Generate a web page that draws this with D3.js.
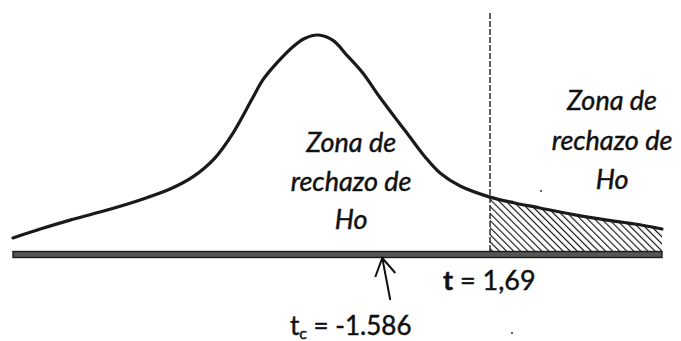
<!DOCTYPE html>
<html>
<head>
<meta charset="utf-8">
<script src="https://cdn.jsdelivr.net/npm/d3@7"></script>
<style>
  html, body { margin: 0; padding: 0; background: #fff; }
  svg { display: block; }
  .lbl { font-family: Lato, "Open Sans", sans-serif; fill: #111; stroke: #111; stroke-width: 0.45px; }
</style>
</head>
<body>
<div id="chart"></div>
<script>
// curva dibujada a mano (unidades arbitrarias 0-100, densidad relativa 0-1)
var curveX = [0, 4.2, 8.8, 13.4, 19.6, 24.2, 27.7, 31.1, 33.9, 37.0, 38.5, 40.8, 43.1, 45.0, 47.0,
              49.3, 51.5, 53.9, 56.5, 58.9, 60.7, 63.5, 65.8, 68.9, 73.5, 77.3, 81.2, 86.6, 91.5, 95.8, 100];
var curveY = [0.065, 0.106, 0.147, 0.184, 0.240, 0.290, 0.346, 0.433, 0.548, 0.714, 0.793, 0.876, 0.945, 0.985, 1.0,
              0.975, 0.905, 0.825, 0.714, 0.618, 0.548, 0.438, 0.364, 0.304, 0.253, 0.226, 0.203, 0.171, 0.147, 0.129, 0.106];

var tCritPos = 73.5;   // t = 1,69
var tCalcPos = 56.9;   // tc = -1.586
var tCritLabel = "1,69";
var tCalcLabel = "-1.586";
var zoneLines = ["Zona de", "rechazo de", "Ho"];
var zoneCenters = [52.1, 92.3];

var width = 681, height = 341;

var svg = d3.select("#chart").append("svg")
    .attr("width", width)
    .attr("height", height);

var x = d3.scaleLinear().domain([0, 100]).range([13, 662]);
var y = d3.scaleLinear().domain([0, 1]).range([252, 35]);

var pts = curveX.map(function(v, i){ return {x: v, y: curveY[i]}; });

//rayado
var defs = svg.append("defs");
defs.append("pattern")
    .attr("id", "hatch")
    .attr("patternUnits", "userSpaceOnUse")
    .attr("width", 5)
    .attr("height", 5)
    .attr("patternTransform", "rotate(-45)")
  .append("line")
    .attr("x1", 0).attr("y1", 0)
    .attr("x2", 0).attr("y2", 5)
    .attr("stroke", "#111")
    .attr("stroke-width", 2.3);

var line = d3.line()
    .x(function(d){ return x(d.x); })
    .y(function(d){ return y(d.y); })
    .curve(d3.curveCatmullRom);

var area = d3.area()
    .x(function(d){ return x(d.x); })
    .y0(y(0))
    .y1(function(d){ return y(d.y); })
    .curve(d3.curveCatmullRom);

svg.append("path")
    .datum(pts.filter(function(d){ return d.x >= tCritPos; }))
    .attr("d", area)
    .attr("fill", "url(#hatch)");

//linea punteada
svg.append("line")
    .attr("x1", x(tCritPos)).attr("x2", x(tCritPos))
    .attr("y1", 13).attr("y2", y(0))
    .attr("stroke", "#222")
    .attr("stroke-width", 1.4)
    .attr("stroke-dasharray", "6,2");

svg.append("path")
    .datum(pts)
    .attr("d", line)
    .attr("fill", "none")
    .attr("stroke", "#1a1a1a")
    .attr("stroke-width", 3.2)
    .attr("stroke-linecap", "round");

//eje
svg.append("rect")
    .attr("x", x(0))
    .attr("y", y(0) - 0.5)
    .attr("width", x(100) - x(0))
    .attr("height", 6)
    .attr("fill", "#555")
    .attr("stroke", "#1a1a1a")
    .attr("stroke-width", 1.4);

//flecha
var ax = x(tCalcPos);
svg.append("path")
    .attr("d", "M" + (ax + 8) + ",300 L" + ax + ",258 M" + (ax - 7) + ",277 L" + ax + ",258 L" + (ax + 13) + ",273")
    .attr("fill", "none")
    .attr("stroke", "#111")
    .attr("stroke-width", 2);

//textos zonas
zoneCenters.forEach(function(c, k){
    var base = k === 0 ? [152, 191, 229] : [110, 150, 189];
    var t = svg.append("text")
        .attr("class", "lbl")
        .attr("text-anchor", "middle")
        .attr("font-style", "italic")
        .attr("font-size", 27);
    zoneLines.forEach(function(s, i){
        t.append("tspan").attr("x", x(c)).attr("y", base[i]).text(s);
    });
});

//t critico
var tc = svg.append("text")
    .attr("class", "lbl")
    .attr("x", 443)
    .attr("y", 290)
    .attr("font-size", 27);
tc.append("tspan").attr("font-weight", "bold").text("t");
tc.append("tspan").text(" = " + tCritLabel);

var tt = svg.append("text")
    .attr("class", "lbl")
    .attr("x", 290)
    .attr("y", 335)
    .attr("font-size", 26);
tt.append("tspan").text("t");
tt.append("tspan").attr("font-size", 16).attr("dy", 4).text("c");
tt.append("tspan").attr("dy", -4).text(" = " + tCalcLabel);

//puntitos del escaneo
svg.append("circle").attr("cx", 541).attr("cy", 191).attr("r", 1).attr("fill", "#333");
svg.append("circle").attr("cx", 512).attr("cy", 333).attr("r", 1).attr("fill", "#333");
</script>
</body>
</html>
